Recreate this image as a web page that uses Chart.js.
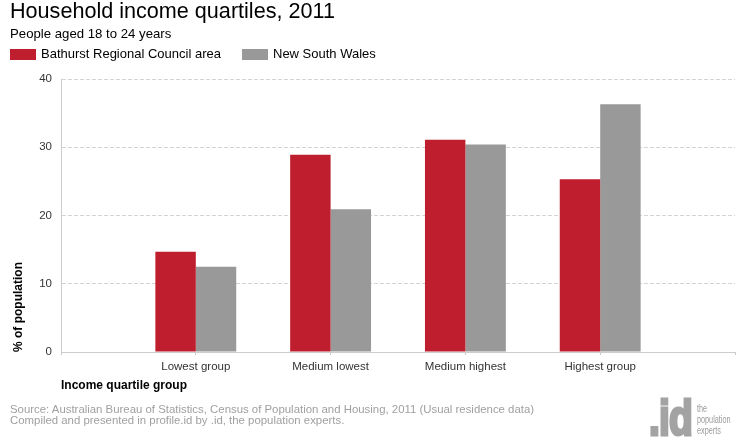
<!DOCTYPE html>
<html>
<head>
<meta charset="utf-8">
<title>Household income quartiles, 2011</title>
<script src="https://cdn.jsdelivr.net/npm/chart.js"></script>
<style>
  html, body { margin: 0; padding: 0; background: #fff; }
  body { width: 740px; height: 440px; position: relative; overflow: hidden;
         font-family: "Liberation Sans", Arial, sans-serif; }
  #chart { position: absolute; left: 0; top: 0; }
  .txt { position: absolute; white-space: nowrap; }
  #title { left: 10px; top: 0px; font-size: 21.6px; line-height: 21px; color: #000; }
  #subtitle { left: 10px; top: 27px; font-size: 13.2px; line-height: 13px; color: #000; }
  .legbox { position: absolute; width: 26px; height: 11px; top: 49px; }
  .legtxt { position: absolute; top: 47px; font-size: 13px; line-height: 13px; color: #000; white-space: nowrap; }
  #source { left: 10px; top: 403.5px; font-size: 11.4px; line-height: 11px; color: #a0a0a0; }
  #logo { left: 649px; top: 392px; font-size: 50px; line-height: 52px; font-weight: bold; color: #a3a3a3;
          -webkit-text-stroke: 3px #a3a3a3; letter-spacing: -1px;
          transform: scaleX(0.78); transform-origin: 0 0; }
  #logotxt { left: 697px; top: 403px; font-size: 11px; line-height: 11px; color: #9a9a9a;
             transform: scaleX(0.66); transform-origin: 0 0; }
</style>
</head>
<body>
<canvas id="chart" width="740" height="440"></canvas>
<div class="txt" id="title">Household income quartiles, 2011</div>
<div class="txt" id="subtitle">People aged 18 to 24 years</div>
<div id="legend"></div>
<div class="txt" id="source">Source: Australian Bureau of Statistics, Census of Population and Housing, 2011 (Usual residence data)<br>Compiled and presented in profile.id by .id, the population experts.</div>
<div class="txt" id="logo">.id</div>
<div class="txt" id="logotxt">the<br>population<br>experts</div>
<script>
// ---- data ----
const categories = ['', 'Lowest group', 'Medium lowest', 'Medium highest', 'Highest group', ''];
const seriesNames = ['Bathurst Regional Council area', 'New South Wales'];
const bathurstValues = [null, 14.7, 28.9, 31.1, 25.3, null];
const nswValues = [null, 12.5, 20.9, 30.4, 36.3, null];
const yTicks = [0, 10, 20, 30, 40];
const seriesColors = ['#BE1E2D', '#999999'];

// ---- legend (HTML) ----
const legendPos = [{box: 10, text: 41}, {box: 242, text: 273}];
const legend = document.getElementById('legend');
seriesNames.forEach((name, i) => {
  const b = document.createElement('div');
  b.className = 'legbox';
  b.style.left = legendPos[i].box + 'px';
  b.style.background = seriesColors[i];
  legend.appendChild(b);
  const t = document.createElement('div');
  t.className = 'legtxt';
  t.style.left = legendPos[i].text + 'px';
  t.textContent = name;
  legend.appendChild(t);
});

function zeroPad(scale) {
  scale.paddingTop = 0; scale.paddingBottom = 0;
  scale.paddingLeft = 0; scale.paddingRight = 0;
}

new Chart(document.getElementById('chart'), {
  type: 'bar',
  data: {
    labels: categories,
    datasets: [
      { label: seriesNames[0], data: bathurstValues, backgroundColor: seriesColors[0], borderWidth: 0 },
      { label: seriesNames[1], data: nswValues, backgroundColor: seriesColors[1], borderWidth: 0 }
    ]
  },
  options: {
    responsive: false,
    animation: false,
    devicePixelRatio: 1,
    layout: { padding: { top: 79, right: 5, bottom: 0, left: 0 } },
    datasets: { bar: { categoryPercentage: 0.6, barPercentage: 1.0 } },
    plugins: { legend: { display: false }, tooltip: { enabled: false }, title: { display: false } },
    scales: {
      x: {
        offset: false,
        grid: { display: true, offset: false, drawOnChartArea: false, drawTicks: true, tickLength: 4,
                tickColor: '#c8c8c8', tickBorderDash: [2, 1], color: '#cccccc' },
        border: { display: true, color: '#cccccc', width: 1 },
        ticks: { color: '#333333', font: { family: '"Liberation Sans", Arial, sans-serif', size: 11.5 },
                 padding: 4, maxRotation: 0, autoSkip: false },
        title: { display: true, text: 'Income quartile group', align: 'start', color: '#000',
                 font: { family: '"Liberation Sans", Arial, sans-serif', size: 12, weight: 'bold' },
                 padding: { top: 0, bottom: 46.8 } },
        afterFit: (s) => { s.height = 88; zeroPad(s); }
      },
      y: {
        min: 0, max: 40,
        afterBuildTicks: (s) => { s.ticks = yTicks.map(v => ({ value: v })); },
        grid: { color: '#d4d4d4', drawTicks: false },
        border: { display: true, color: '#cccccc', width: 1, dash: [4, 2] },
        ticks: { color: '#333333', font: { family: '"Liberation Sans", Arial, sans-serif', size: 11.5 },
                 padding: 9 },
        title: { display: true, text: '% of population', align: 'start', color: '#000',
                 font: { family: '"Liberation Sans", Arial, sans-serif', size: 12, weight: 'bold' },
                 padding: { top: 11.8, bottom: 0 } },
        afterFit: (s) => { s.width = 61; zeroPad(s); }
      }
    }
  }
});
</script>
</body>
</html>
